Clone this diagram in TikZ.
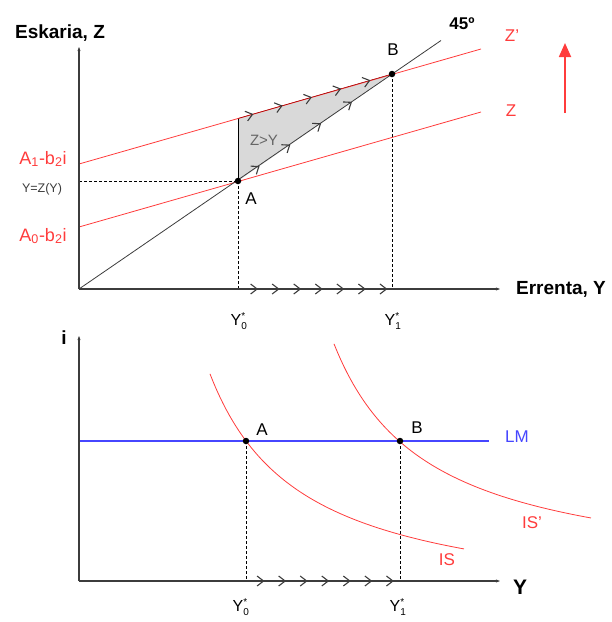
\documentclass[tikz,border=0pt]{standalone}
\usepackage{fontspec}
\setmainfont{Liberation Sans}
\usetikzlibrary{arrows.meta,decorations.markings}
\definecolor{lred}{RGB}{255,60,60}
\definecolor{lblue}{RGB}{70,70,255}
\definecolor{axgray}{RGB}{60,60,60}
\tikzset{
  axis/.style={axgray,line width=1.1pt,-{Stealth[length=4pt,width=3pt]}},
  redline/.style={lred,line width=0.8pt},
  dashline/.style={black,dashed,dash pattern=on 3pt off 2pt,line width=0.7pt},
  eqdot/.style={circle,fill=black,inner sep=0pt,minimum size=6.5pt},
  chev/.style 2 args={decoration={markings,
     mark=between positions #1 step #2 with {\arrow[axgray,line width=1.1pt]{Straight Barb[length=6.5pt,width=10pt]}}},
     postaction={decorate}},
  lbl/.style={font=\fontsize{17}{18}\selectfont,inner sep=0pt},
  bold/.style={font=\fontsize{19}{20}\selectfont\bfseries,inner sep=0pt},
  ylbl/.style={font=\fontsize{16}{16}\selectfont,inner sep=0pt},
}
\newcommand{\ystar}[1]{Y$_{\mbox{\fontsize{10}{10}\selectfont #1}}^{\mbox{\fontsize{10}{10}\selectfont *}}$}
\begin{document}
\begin{tikzpicture}[x=1pt,y=-1pt]
\useasboundingbox (0,0) rectangle (612,622);
% ---------- top panel ----------
\coordinate (O) at (79,289);
\coordinate (A) at (238,181);
\coordinate (B) at (392,74);
\coordinate (C) at (238,118.5);
\coordinate (FL) at (441,40.5);
\coordinate (Zp0) at (79,164);
\coordinate (Zp1) at (481,49);
\coordinate (Z0) at (79,227);
\coordinate (Z1) at (481,112);
\coordinate (Ax) at (238,289);
\coordinate (Bx) at (392,289);
\coordinate (Ay) at (79,181);
% shaded region
\fill[gray!30] (A) -- (C) -- (B) -- cycle;
\draw[black,line width=0.8pt] (A) -- (C);
% lines
\draw[redline] (Zp0) -- (Zp1);
\draw[redline] (Z0) -- (Z1);
\draw[axgray,line width=0.8pt] (O) -- (FL);
\draw[red!60!black,line width=0.5pt] (C) -- (B);
% chevrons
\path[chev={0.1 and 0.9}{0.19}] (C) -- (B);
\path[chev={0.14 and 0.8}{0.2}] (A) -- (B);
\path[chev={0.13 and 0.97}{0.14}] (Ax) -- (Bx);
% dashed
\draw[dashline] (Ay) -- (A);
\draw[dashline] (A) -- (Ax);
\draw[dashline] (B) -- (Bx);
% axes
\draw[axis] (O) -- (79,47);
\draw[axis] (O) -- (500,289);
\node[eqdot] (dA) at (A) {};
\node[eqdot] (dB) at (B) {};
% labels
\node[bold] (eskaria) at (60,33) {Eskaria, Z};
\node[bold] (errenta) at (561,289) {Errenta, Y};
\node[bold,font=\fontsize{17}{18}\selectfont\bfseries] (deg) at (462,24) {45º};
\node[lbl] (lB) at (393,50) {B};
\node[lbl] (lA) at (251,199) {A};
\node[lbl,lred] (lZp) at (512,36) {Z'};
\node[lbl,lred] (lZ) at (511,111) {Z};
\node[lbl,gray!80!black,font=\fontsize{15}{16}\selectfont] (zy) at (264,140) {Z>Y};
\node[lbl,lred,font=\fontsize{18}{18}\selectfont] (a1) at (43,159) {A\textsubscript{1}-b\textsubscript{2}i};
\node[lbl,axgray,font=\fontsize{12.5}{13}\selectfont] (yz) at (42,189) {Y=Z(Y)};
\node[lbl,lred,font=\fontsize{18}{18}\selectfont] (a0) at (43,236) {A\textsubscript{0}-b\textsubscript{2}i};
\node[ylbl] (y0t) at (239,321) {\ystar{0}};
\node[ylbl] (y1t) at (393,321) {\ystar{1}};
\coordinate (ra0) at (565,113);
\coordinate (ra1) at (565,43);
\draw[lred,line width=1.8pt,-{Triangle[length=14pt,width=12pt]}] (ra0) -- (ra1);
% ---------- bottom panel ----------
\coordinate (O2) at (79,581);
\coordinate (A2) at (246,441);
\coordinate (B2) at (400,441);
\coordinate (A2x) at (246,581);
\coordinate (B2x) at (400,581);
\coordinate (LM0) at (79,441);
\coordinate (LM1) at (489,441);
\draw[lblue,line width=1.2pt] (LM0) -- (LM1);
\draw[redline,domain=210:464,samples=80] plot (\x,{612.4-219.57/((\x-117.9)*0.01)});
\draw[redline,domain=334:591,samples=80] plot (\x,{582-224.94/((\x-239.5)*0.01)});
\path[chev={0.12 and 0.97}{0.14}] (A2x) -- (B2x);
\draw[dashline] (A2) -- (A2x);
\draw[dashline] (B2) -- (B2x);
\draw[axis] (O2) -- (79,336);
\draw[axis] (O2) -- (500,581);
\node[eqdot] (dA2) at (A2) {};
\node[eqdot] (dB2) at (B2) {};
\node[bold] (li) at (64,338) {i};
\node[bold,font=\fontsize{21}{22}\selectfont\bfseries] (lY) at (520,587) {Y};
\node[lbl,lblue] (lLM) at (517,437) {LM};
\node[lbl] (lA2) at (262,430) {A};
\node[lbl] (lB2) at (417,428) {B};
\node[lbl,lred] (lISp) at (532,523) {IS'};
\node[lbl,lred] (lIS) at (447,560) {IS};
\node[ylbl] (y0b) at (241,607) {\ystar{0}};
\node[ylbl] (y1b) at (398,607) {\ystar{1}};
\end{tikzpicture}
\end{document}
